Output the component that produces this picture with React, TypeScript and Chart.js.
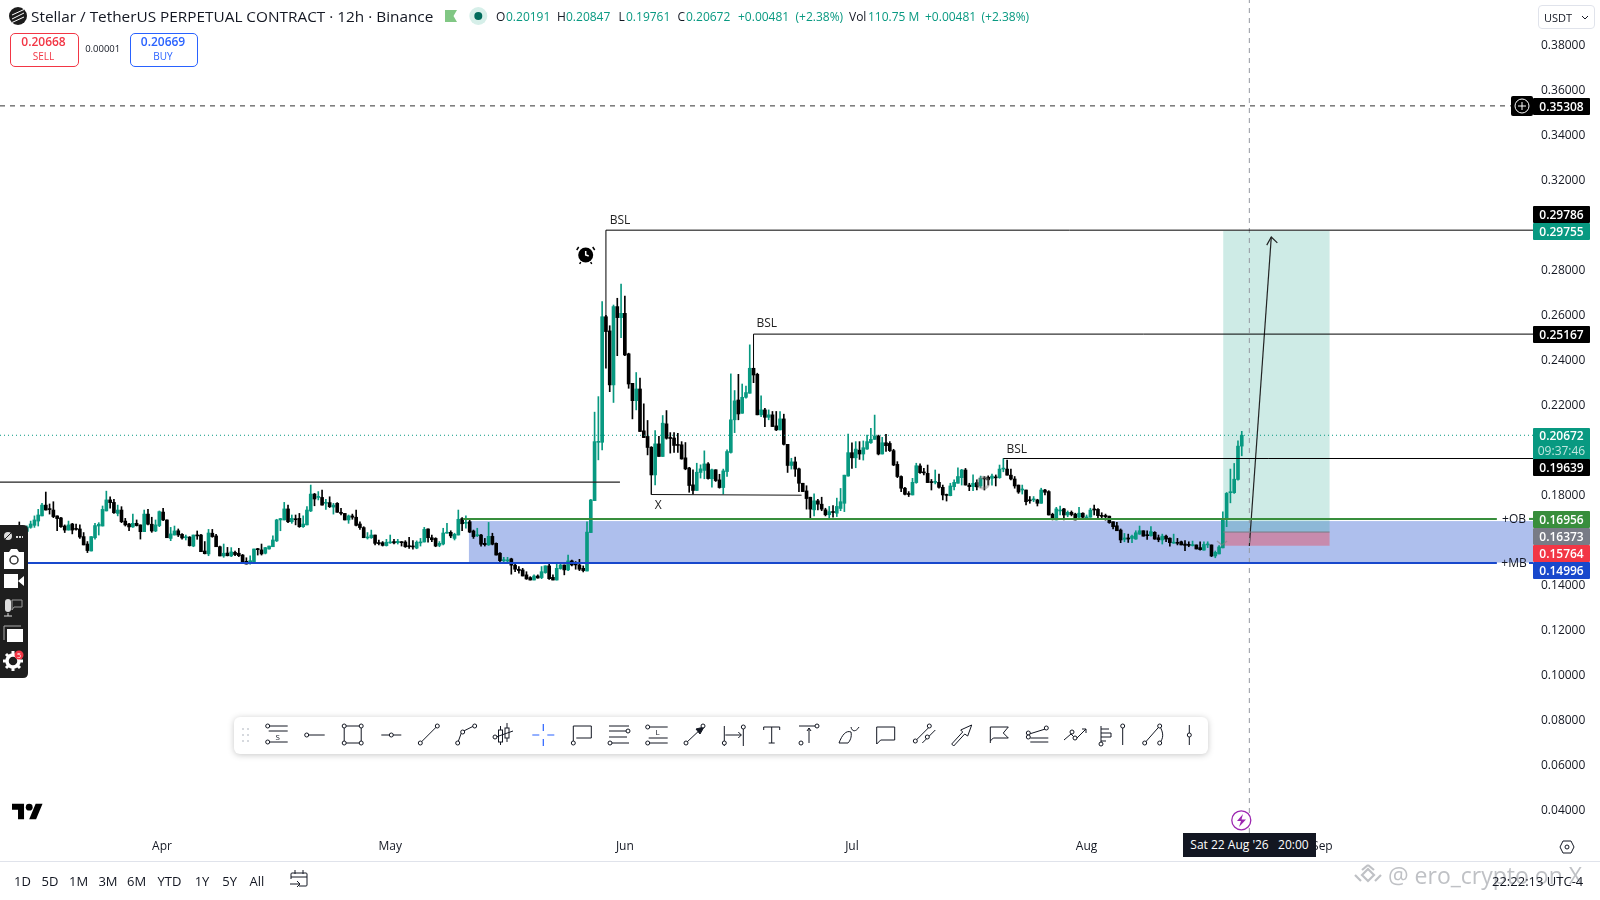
import React, { useEffect, useRef } from "react";
import { Chart, registerables } from "chart.js";

Chart.register(...registerables);

const opens = [
.1660,.1630,.1640,.1658,.1667,.1686,.1709,.1757,.1740,.1735,
.1709,.1700,.1664,.1646,.1673,.1652,.1651,.1617,.1584,.1553,
.1612,.1664,.1664,.1731,.1780,.1769,.1720,.1735,.1686,.1673,
.1660,.1676,.1669,.1639,.1717,.1672,.1642,.1666,.1726,.1691,
.1609,.1624,.1643,.1627,.1612,.1615,.1575,.1623,.1624,.1553,
.1540,.1632,.1620,.1572,.1531,.1544,.1531,.1547,.1543,.1535,
.1507,.1498,.1501,.1562,.1558,.1543,.1562,.1572,.1598,.1691,
.1691,.1740,.1683,.1695,.1698,.1661,.1669,.1731,.1806,.1791,
.1791,.1765,.1768,.1748,.1765,.1725,.1720,.1691,.1709,.1703,
.1673,.1657,.1611,.1612,.1624,.1590,.1590,.1577,.1589,.1595,
.1590,.1593,.1593,.1575,.1574,.1566,.1589,.1593,.1651,.1612,
.1609,.1578,.1584,.1632,.1636,.1609,.1624,.1697,.1676,.1683,
.1642,.1621,.1624,.1587,.1580,.1618,.1587,.1543,.1510,.1509,
.1518,.1490,.1472,.1469,.1447,.1435,.1424,.1442,.1435,.1457,
.1487,.1436,.1424,.1475,.1491,.1469,.1509,.1497,.1491,.1476,
.1464,.1635,.1777,.2036,.2036,.2594,.2531,.2291,.2639,.2590,
.2609,.2429,.2298,.2221,.2273,.2087,.2062,.2014,.1891,.2029,
.1973,.2118,.2055,.2055,.2025,.2025,.1967,.1922,.1847,.1822,
.1902,.1911,.1940,.1874,.1914,.1869,.1835,.1906,.1991,.2136,
.2224,.2165,.2236,.2254,.2365,.2338,.2158,.2180,.2147,.2158,
.2109,.2091,.2140,.2027,.1933,.1949,.1918,.1854,.1820,.1792,
.1736,.1776,.1761,.1736,.1714,.1727,.1721,.1742,.1765,.1886,
.1990,.1967,.2001,.1984,.2006,.2034,.2049,.2064,.1984,.2034,
.2031,.1999,.1938,.1884,.1832,.1807,.1802,.1857,.1931,.1903,
.1898,.1861,.1858,.1858,.1836,.1803,.1799,.1839,.1854,.1879,
.1913,.1846,.1839,.1857,.1842,.1876,.1881,.1876,.1881,.1879,
.1917,.1917,.1890,.1873,.1846,.1824,.1824,.1780,.1780,.1780,
.1765,.1824,.1817,.1716,.1691,.1731,.1740,.1713,.1725,.1717,
.1703,.1721,.1700,.1703,.1740,.1738,.1710,.1711,.1708,.1683,
.1665,.1646,.1605,.1611,.1609,.1606,.1628,.1643,.1624,.1621,
.1636,.1612,.1602,.1619,.1610,.1588,.1591,.1594,.1584,.1581,
.1577,.1580,.1568,.1557,.1580,.1580,.1531,.1540,.1567,.1698,
.1812,.1812,.1871,.20191];

const highs = [
.1682,.1660,.1665,.1686,.1709,.1738,.1765,.1815,.1762,.1772,
.1709,.1703,.1669,.1686,.1676,.1673,.1669,.1635,.1595,.1617,
.1676,.1679,.1753,.1819,.1794,.1783,.1757,.1750,.1698,.1676,
.1717,.1691,.1669,.1735,.1738,.1703,.1691,.1731,.1743,.1691,
.1658,.1664,.1651,.1630,.1624,.1617,.1624,.1642,.1627,.1595,
.1649,.1649,.1627,.1575,.1584,.1569,.1568,.1553,.1565,.1538,
.1523,.1532,.1562,.1565,.1584,.1569,.1575,.1620,.1694,.1698,
.1769,.1757,.1713,.1713,.1720,.1709,.1750,.1846,.1809,.1817,
.1824,.1783,.1794,.1765,.1768,.1743,.1720,.1713,.1717,.1735,
.1683,.1661,.1635,.1646,.1624,.1602,.1595,.1605,.1624,.1605,
.1605,.1595,.1599,.1614,.1599,.1598,.1609,.1658,.1651,.1624,
.1612,.1595,.1654,.1676,.1643,.1632,.1735,.1701,.1709,.1694,
.1646,.1654,.1627,.1609,.1680,.1632,.1589,.1546,.1525,.1525,
.1521,.1501,.1484,.1476,.1461,.1439,.1447,.1447,.1484,.1487,
.1501,.1447,.1495,.1495,.1491,.1535,.1513,.1506,.1516,.1487,
.1683,.1782,.2170,.2239,.2661,.2600,.2554,.2646,.2676,.2739,
.2686,.2432,.2298,.2346,.2321,.2207,.2133,.2017,.2088,.2062,
.2155,.2177,.2079,.2079,.2076,.2039,.2035,.1925,.1914,.1943,
.1936,.1998,.1946,.1917,.1914,.1894,.1917,.2002,.2340,.2266,
.2338,.2295,.2286,.2469,.2365,.2343,.2242,.2187,.2180,.2173,
.2173,.2173,.2161,.2027,.1965,.1970,.1921,.1854,.1843,.1792,
.1807,.1783,.1792,.1743,.1751,.1755,.1788,.1831,.1890,.2073,
.2034,.2039,.2039,.2042,.2068,.2098,.2157,.2068,.2058,.2071,
.2039,.2005,.1950,.1887,.1836,.1817,.1876,.1943,.1940,.1920,
.1935,.1871,.1913,.1895,.1846,.1806,.1854,.1869,.1923,.1916,
.1920,.1854,.1891,.1869,.1886,.1884,.1887,.1895,.1891,.1935,
.1963,.1957,.1917,.1884,.1846,.1846,.1824,.1795,.1795,.1783,
.1832,.1827,.1821,.1721,.1747,.1753,.1743,.1731,.1731,.1721,
.1747,.1723,.1713,.1743,.1757,.1741,.1723,.1717,.1708,.1683,
.1680,.1651,.1631,.1628,.1624,.1643,.1664,.1643,.1643,.1661,
.1639,.1624,.1628,.1624,.1612,.1628,.1609,.1597,.1599,.1594,
.1597,.1580,.1594,.1594,.1594,.1580,.1553,.1577,.1727,.1813,
.1917,.1942,.2043,.20847];

const lows = [
.1620,.1620,.1630,.1654,.1658,.1664,.1709,.1735,.1717,.1701,
.1643,.1658,.1635,.1646,.1629,.1646,.1609,.1580,.1546,.1553,
.1606,.1624,.1664,.1731,.1743,.1720,.1709,.1679,.1664,.1643,
.1658,.1664,.1606,.1639,.1669,.1636,.1639,.1661,.1688,.1612,
.1599,.1624,.1617,.1606,.1602,.1575,.1572,.1605,.1550,.1540,
.1532,.1614,.1572,.1531,.1525,.1531,.1528,.1532,.1528,.1501,
.1495,.1495,.1501,.1535,.1535,.1540,.1561,.1572,.1595,.1643,
.1691,.1679,.1676,.1669,.1658,.1658,.1669,.1728,.1754,.1780,
.1757,.1738,.1746,.1717,.1725,.1713,.1691,.1676,.1694,.1664,
.1649,.1612,.1606,.1609,.1580,.1580,.1575,.1575,.1587,.1584,
.1584,.1575,.1569,.1565,.1561,.1563,.1575,.1593,.1592,.1595,
.1572,.1572,.1580,.1632,.1612,.1602,.1624,.1643,.1654,.1635,
.1609,.1617,.1575,.1575,.1578,.1580,.1535,.1501,.1501,.1498,
.1450,.1461,.1454,.1442,.1427,.1424,.1424,.1432,.1430,.1454,
.1427,.1424,.1424,.1472,.1447,.1466,.1487,.1472,.1466,.1460,
.1464,.1635,.1777,.1958,.2002,.2365,.2261,.2213,.2421,.2501,
.2421,.2276,.2140,.2180,.2084,.2057,.1980,.1891,.1847,.1973,
.1973,.2050,.1988,.1991,.1991,.1961,.1914,.1814,.1806,.1822,
.1877,.1874,.1872,.1837,.1862,.1832,.1806,.1884,.1988,.2079,
.2136,.2165,.2232,.2254,.2301,.2158,.2150,.2106,.2136,.2106,
.2088,.2091,.2024,.1902,.1917,.1884,.1817,.1817,.1739,.1699,
.1709,.1736,.1732,.1709,.1699,.1703,.1706,.1732,.1728,.1886,
.1920,.1923,.1960,.1957,.2004,.2031,.2049,.1980,.1984,.1995,
.1995,.1932,.1879,.1817,.1802,.1795,.1802,.1854,.1898,.1891,
.1857,.1824,.1851,.1832,.1780,.1775,.1798,.1824,.1854,.1846,
.1846,.1821,.1821,.1824,.1835,.1824,.1846,.1846,.1842,.1876,
.1905,.1890,.1869,.1832,.1809,.1806,.1758,.1765,.1772,.1753,
.1765,.1802,.1713,.1691,.1691,.1713,.1691,.1705,.1709,.1691,
.1694,.1694,.1694,.1703,.1713,.1692,.1698,.1690,.1676,.1651,
.1643,.1590,.1594,.1591,.1590,.1605,.1627,.1619,.1605,.1619,
.1605,.1594,.1584,.1594,.1575,.1587,.1580,.1580,.1554,.1572,
.1575,.1562,.1557,.1557,.1568,.1528,.1523,.1540,.1567,.1661,
.1767,.1809,.1868,.19761];

const closes = [
.1640,.1650,.1660,.1673,.1691,.1713,.1757,.1735,.1737,.1706,
.1697,.1661,.1646,.1669,.1646,.1649,.1615,.1580,.1555,.1617,
.1666,.1672,.1738,.1780,.1768,.1723,.1735,.1683,.1669,.1660,
.1676,.1666,.1639,.1717,.1672,.1642,.1669,.1728,.1691,.1612,
.1629,.1642,.1624,.1611,.1615,.1577,.1624,.1620,.1550,.1541,
.1633,.1617,.1572,.1531,.1543,.1532,.1549,.1537,.1532,.1504,
.1495,.1510,.1562,.1559,.1540,.1568,.1575,.1602,.1691,.1697,
.1740,.1683,.1698,.1692,.1661,.1673,.1735,.1806,.1784,.1794,
.1757,.1768,.1750,.1757,.1725,.1720,.1691,.1709,.1703,.1667,
.1657,.1612,.1614,.1624,.1587,.1586,.1578,.1592,.1592,.1589,
.1596,.1590,.1572,.1572,.1571,.1592,.1592,.1649,.1612,.1603,
.1575,.1587,.1633,.1635,.1620,.1627,.1694,.1674,.1680,.1637,
.1617,.1624,.1583,.1581,.1618,.1583,.1535,.1510,.1513,.1512,
.1490,.1472,.1466,.1442,.1429,.1424,.1442,.1433,.1461,.1487,
.1430,.1424,.1476,.1491,.1469,.1509,.1491,.1491,.1472,.1466,
.1637,.1780,.2039,.2039,.2594,.2528,.2291,.2639,.2590,.2609,
.2424,.2295,.2221,.2273,.2084,.2057,.2013,.1891,.2029,.1973,
.2121,.2054,.2053,.2022,.2022,.1962,.1918,.1844,.1822,.1903,
.1918,.1940,.1875,.1914,.1866,.1835,.1909,.1995,.2136,.2220,
.2162,.2236,.2257,.2365,.2335,.2158,.2180,.2147,.2158,.2106,
.2091,.2140,.2027,.1933,.1949,.1917,.1854,.1817,.1786,.1739,
.1776,.1761,.1739,.1714,.1728,.1724,.1751,.1772,.1890,.1990,
.1967,.2006,.1984,.2012,.2039,.2049,.2064,.1984,.2034,.2021,
.1999,.1935,.1884,.1832,.1805,.1804,.1858,.1932,.1901,.1900,
.1857,.1857,.1861,.1836,.1802,.1800,.1842,.1858,.1884,.1913,
.1846,.1839,.1854,.1838,.1876,.1873,.1869,.1886,.1878,.1917,
.1920,.1890,.1873,.1842,.1815,.1827,.1772,.1776,.1783,.1765,
.1824,.1814,.1713,.1694,.1740,.1735,.1713,.1725,.1715,.1691,
.1721,.1703,.1703,.1735,.1735,.1710,.1707,.1705,.1679,.1661,
.1643,.1602,.1611,.1606,.1619,.1634,.1643,.1619,.1621,.1639,
.1606,.1603,.1619,.1606,.1590,.1591,.1587,.1580,.1578,.1578,
.1580,.1562,.1559,.1582,.1582,.1531,.1547,.1571,.1698,.1809,
.1815,.1872,.2019,.20672];

// Time axis, in candle numbers (12h candles)
const monthLabels = ["Apr", "May", "Jun", "Jul", "Aug", "Sep"];
const monthCandles = [37.7, 98, 160, 220, 282, 344.3];
const priceTicks = [0.38, 0.36, 0.34, 0.32, 0.28, 0.26, 0.24, 0.22, 0.18, 0.14, 0.12, 0.1, 0.08, 0.06, 0.04];

// Drawing levels
const alertPrice = 0.35308;
const bslHigh = 0.29786;
const bslMid = 0.25167;
const bslLow = 0.19639;
const lastPrice = 0.20672;
const obPrice = 0.16956;
const mbPrice = 0.14996;
const targetPrice = 0.29755;
const entryPrice = 0.16373;
const stopPrice = 0.15764;
const obZoneTop = 0.1686;
const rangePrice = 0.1859;
const xLevelStart = 0.1804;
const xLevelEnd = 0.1801;

const xMin = -5.1;
const xMax = 399.95;
const crosshairCandle = 325;
const positionStart = 318.1;
const positionEnd = 346.2;

const UP = "#089981";
const DOWN = "#000000";
const INK = "#131722";
const FONT = '"Open Sans", sans-serif';

const idx = opens.map((_, i) => i);
const colors = opens.map((o, i) => (closes[i] >= o ? UP : DOWN));

function seg(pts: number[][], color: string, width = 1, dash: number[] = []) {
  return {
    type: "line" as const,
    data: pts.map(([x, y]) => ({ x, y })),
    borderColor: color,
    borderWidth: width,
    borderDash: dash,
    pointRadius: 0,
    tension: 0,
    fill: false,
    order: 1,
  };
}

const boxesPlugin = {
  id: "boxes",
  beforeDatasetsDraw(chart: any) {
    const { ctx, scales } = chart;
    const box = (x0: number, x1: number, p0: number, p1: number, c: string) => {
      const l = scales.x.getPixelForValue(x0);
      const r = scales.x.getPixelForValue(x1);
      const t = scales.y.getPixelForValue(p0);
      const b = scales.y.getPixelForValue(p1);
      ctx.fillStyle = c;
      ctx.fillRect(l, t, r - l, b - t);
    };
    box(118.8, xMax, obZoneTop, mbPrice + 0.0002, "rgba(24,72,204,0.35)");
    box(positionStart, positionEnd, targetPrice, entryPrice, "rgba(8,153,129,0.2)");
    box(positionStart, positionEnd, entryPrice, stopPrice, "rgba(242,54,69,0.38)");
  },
};

function Tag({ y, bg, text }: { y: number; bg: string; text: string }) {
  return (
    <div style={{ position: "absolute", left: 1533, top: y - 8.5, width: 57, height: 17, background: bg, color: "#fff", font: `600 12px ${FONT}`, lineHeight: "17px", textAlign: "center", borderRadius: 1 }}>
      {text}
    </div>
  );
}

function T({ x, y, c = INK, s = 12, w = 400, children, anchor = "left" }: any) {
  const tr = anchor === "center" ? "translate(-50%,-50%)" : "translateY(-50%)";
  return (
    <div style={{ position: "absolute", left: x, top: y, transform: tr, color: c, font: `${w} ${s}px ${FONT}`, whiteSpace: "pre", lineHeight: 1 }}>
      {children}
    </div>
  );
}

const Dot = ({ x, y }: { x: number; y: number }) => (
  <circle cx={x} cy={y} r={2} fill="#fff" stroke={INK} strokeWidth={1} />
);

const TimeBtn = ["1D", "5D", "1M", "3M", "6M", "YTD", "1Y", "5Y", "All"];
const TimeBtnX = [22.4, 50, 78.6, 108, 136.7, 169.4, 202, 229.6, 257];

function DrawingBar() {
  const I = ({ x, children }: any) => <g transform={`translate(${x},735)`}>{children}</g>;
  return (
    <g fill="none" stroke={INK} strokeWidth={1}>
      {[-6, 0, 6].map((dy) => [-3, 2].map((dx) => <circle key={`${dy}${dx}`} cx={246 + dx} cy={735 + dy} r={1} fill="#c9ccd3" stroke="none" />))}
      <I x={277.7}>
        <path d="M-9-9H10M-9-4H10M-9 7H10" /><Dot x={-10} y={-9} /><Dot x={-10} y={7} />
        <text x={0} y={5} fontSize={8} fill={INK} stroke="none" textAnchor="middle" fontFamily={FONT}>S</text>
      </I>
      <I x={315.7}><path d="M-8 0H9" /><Dot x={-9} y={0} /></I>
      <I x={352.7}><rect x={-8.5} y={-9} width={17} height={17} /><Dot x={-8.5} y={-9} /><Dot x={8.5} y={-9} /><Dot x={-8.5} y={8} /><Dot x={8.5} y={8} /></I>
      <I x={391.3}><path d="M-10 0H10" /><Dot x={0} y={0} /></I>
      <I x={429.3}><path d="M-9 8L8-9" /><Dot x={-9} y={8} /><Dot x={8} y={-9} /></I>
      <I x={466.7}><path d="M-9 8L-5-3L7-9" /><Dot x={-9} y={8} /><Dot x={-4} y={-3} /><Dot x={8} y={-9} /></I>
      <I x={505}>
        <rect x={-6.5} y={-5} width={4} height={12} /><rect x={0} y={-7} width={4} height={10} />
        <path d="M-4.5-9V-5M-4.5 7V10M2-12V-7M2 3V7M-9 2L8-4" /><Dot x={-10} y={2} />
      </I>
      <I x={543.3}><path d="M0-11V-4M0 4V11M-11 0H-4M4 0H11" stroke="#2962ff" strokeWidth={1.2} /></I>
      <I x={582.3}><path d="M-9 8V-9H9V3H-6" /><Dot x={-9} y={8} /></I>
      <I x={619}><path d="M-10-9H10M-10-4H8M-10 2H8M-10 8H10" /><Dot x={9} y={-4} /><Dot x={-9} y={8} /></I>
      <I x={657.7}>
        <path d="M-9-8H10M-9 3H10M-9 8H10" /><Dot x={-10} y={-8} /><Dot x={-10} y={8} />
        <text x={0} y={0} fontSize={8} fill={INK} stroke="none" textAnchor="middle" fontFamily={FONT}>L</text>
      </I>
      <I x={695}><path d="M-9 8L8-8" /><path d="M9-8L1-6L5-1Z" fill={INK} /><Dot x={-9} y={8} /><Dot x={8} y={-9} /></I>
      <I x={733.3}><path d="M-9-9V11M10-7V11M-8 0H8M5-3L8 0L5 3" /><Dot x={-9} y={8} /><Dot x={10} y={-8} /></I>
      <I x={771.7}><path d="M-8-5V-8H8V-5M0-8V8M-3 8H3" /></I>
      <I x={809}><path d="M-10-9H8M0-7V8M-2-4L0-7L2-4" /><Dot x={8} y={-9} /><Dot x={-8} y={8} /></I>
      <I x={848}><path d="M-9 8C-6 0-2-5 3-3C4 2 2 6 0 8ZM3-8C4-3 8-3 11-8" /></I>
      <I x={885.7}><path d="M-9-8H9V5H-5L-9 9Z" /></I>
      <I x={924.3}><path d="M-9 6L5-8M-2 8L11-5" /><Dot x={-9} y={6} /><Dot x={5} y={-9} /><Dot x={3} y={2} /></I>
      <I x={961.7}><path d="M-10 9L1-3L-1-5L10-10L6 1L3-1L-8 11Z" /></I>
      <I x={999.3}><path d="M-9 8V-8H9L4-2L9 3H-6L-9 6" /></I>
      <I x={1037.3}><path d="M-8-1L8-6M-7 3H11M-7 7H11" /><Dot x={-9} y={-2} /><Dot x={9} y={-7} /><Dot x={-9} y={2} /></I>
      <I x={1075}><path d="M-11 5L-4-1L1 4L11-6M7-6H11V-2" /><Dot x={-3} y={-3} /><Dot x={0} y={3} /></I>
      <I x={1107}><path d="M-6-9V9M-6-6H2M-6-2H4V2H-6M-6 6H-1" /><Dot x={-6} y={9} /></I>
      <I x={1122.7}><path d="M0-8V10" /><Dot x={0} y={-9} /></I>
      <I x={1152.7}><path d="M-8 8L7-9M7-9C11-2 11 3 7 8" /><Dot x={-8} y={8} /><Dot x={7} y={-9} /><Dot x={7} y={8} /></I>
      <I x={1189.3}><path d="M0-10V10" /><Dot x={0} y={0} /></I>
    </g>
  );
}

function Overlay() {
  return (
    <>
      {/* legend */}
      <T x={31} y={16.5} s={15.35}>Stellar / TetherUS PERPETUAL CONTRACT · 12h · Binance</T>
      <T x={496} y={16.5}>O</T><T x={506} y={16.5} c={UP}>0.20191</T>
      <T x={557} y={16.5}>H</T><T x={566} y={16.5} c={UP}>0.20847</T>
      <T x={618.5} y={16.5}>L</T><T x={626} y={16.5} c={UP}>0.19761</T>
      <T x={677.5} y={16.5}>C</T><T x={686} y={16.5} c={UP}>0.20672</T>
      <T x={738} y={16.5} c={UP}>+0.00481</T><T x={795.5} y={16.5} c={UP}>(+2.38%)</T>
      <T x={849} y={16.5}>Vol</T><T x={868} y={16.5} c={UP}>110.75 M</T>
      <T x={925} y={16.5} c={UP}>+0.00481</T><T x={981.5} y={16.5} c={UP}>(+2.38%)</T>
      <div style={{ position: "absolute", left: 9.5, top: 32.5, width: 67, height: 32, border: "1px solid #f23645", borderRadius: 5, background: "#fff" }} />
      <T x={43.5} y={41.5} anchor="center" c="#f23645" s={12} w={600}>0.20668</T>
      <T x={43.5} y={56} anchor="center" c="#f23645" s={10}>SELL</T>
      <T x={102.7} y={48.7} anchor="center" s={9.5}>0.00001</T>
      <div style={{ position: "absolute", left: 129.5, top: 32.5, width: 66, height: 32, border: "1px solid #2962ff", borderRadius: 5, background: "#fff" }} />
      <T x={163} y={41.5} anchor="center" c="#2962ff" s={12} w={600}>0.20669</T>
      <T x={163} y={56} anchor="center" c="#2962ff" s={10}>BUY</T>

      {/* drawing labels */}
      <T x={620} y={219.5} anchor="center" s={12} c="#222">BSL</T>
      <T x={766.7} y={323.3} anchor="center" s={12} c="#222">BSL</T>
      <T x={1016.7} y={448.7} anchor="center" s={12} c="#222">BSL</T>
      <T x={658.3} y={504.5} anchor="center" s={12} c="#222">X</T>
      <T x={1514} y={519} anchor="center" s={12}>+OB</T>
      <T x={1514} y={562.5} anchor="center" s={12}>+MB</T>

      {/* price tags */}
      <Tag y={106} bg="#000" text="0.35308" />
      <Tag y={214.5} bg="#000" text="0.29786" />
      <Tag y={231.5} bg={UP} text="0.29755" />
      <Tag y={334.7} bg="#000" text="0.25167" />
      <div style={{ position: "absolute", left: 1533, top: 428, width: 57, height: 31.5, background: UP, color: "#fff", font: `600 12px ${FONT}`, textAlign: "center", lineHeight: "16px", borderRadius: 1 }}>
        0.20672<div style={{ color: "#bfe6df", fontWeight: 400, lineHeight: "14px" }}>09:37:46</div>
      </div>
      <Tag y={467.5} bg="#000" text="0.19639" />
      <Tag y={519.5} bg="#388e3c" text="0.16956" />
      <Tag y={536.5} bg="#787b86" text="0.16373" />
      <Tag y={553.5} bg="#f23645" text="0.15764" />
      <Tag y={570.5} bg="#1848cc" text="0.14996" />

      <div style={{ position: "absolute", left: 1538, top: 5, width: 57, height: 24, border: "1px solid #e0e3eb", borderRadius: 4, boxSizing: "border-box" }} />
      <T x={1544} y={17} s={11}>USDT</T>

      {/* crosshair date + footer */}
      <div style={{ position: "absolute", left: 1183, top: 833, width: 133, height: 24, background: "#131722", color: "#fff", font: `400 12px ${FONT}`, lineHeight: "24px", textAlign: "center", whiteSpace: "pre", zIndex: 2 }}>
        Sat 22 Aug '26   20:00
      </div>
      <div style={{ position: "absolute", left: 0, top: 861, width: 1600, height: 1, background: "#e0e3eb" }} />
      {TimeBtn.map((b, i) => (
        <T key={b} x={TimeBtnX[i]} y={881} anchor="center" s={13}>{b}</T>
      ))}
      <T x={1388} y={875} s={23} c="rgba(170,172,178,0.75)">@ ero_crypto on X</T>
      <T x={1492} y={881} s={13}>22:22:13 UTC-4</T>

      <svg width={1600} height={900} style={{ position: "absolute", left: 0, top: 0, pointerEvents: "none" }}>
        {/* symbol logo */}
        <circle cx={18} cy={16} r={9} fill="#1c1c1c" />
        <path d="M12 19L24 13M12 15L24 9.5M12 22.5L24 17" stroke="#fff" strokeWidth={1} fill="none" />
        <path d="M445 10H457L453.5 16L457 22H445Z" fill="#81c784" />
        <circle cx={478.3} cy={16} r={9} fill="#d6efe9" /><circle cx={478.3} cy={16} r={4} fill="#006b5b" />

        {/* alert clock */}
        <g transform="translate(585.7,255)">
          <circle r={7.5} fill="#000" /><path d="M-7-8L-9-5M7-8L9-5M-5 7L-6 9M5 7L6 9" stroke="#000" strokeWidth={1.5} />
          <path d="M0-4V0L3 1" stroke="#fff" strokeWidth={1.5} fill="none" />
        </g>
        {/* cursor ring */}
        <circle cx={983.3} cy={482.7} r={5.5} fill="none" stroke="rgba(120,120,120,0.45)" strokeWidth={3} />
        <path d="M1217 541L1222 545L1227 541" fill="none" stroke="rgba(130,130,130,0.6)" strokeWidth={1.5} />

        {/* add-alert button */}
        <rect x={1511} y={96} width={22} height={20} rx={2} fill="#000" />
        <circle cx={1522} cy={106} r={7} fill="none" stroke="#fff" /><path d="M1522 102V110M1518 106H1526" stroke="#fff" />

        {/* USDT chevron */}
        <path d="M1582 16L1585 19L1588 16" fill="none" stroke={INK} />

        {/* left recording bar */}
        <path d="M0 525H23Q28 525 28 530V673Q28 678 23 678H0Z" fill="#1e1e1e" />
        <circle cx={8} cy={536} r={4} fill="#ddd" /><path d="M4 540L12 532" stroke="#1e1e1e" />
        <path d="M16 537H23" stroke="#ddd" strokeWidth={2} strokeDasharray="2 1" />
        <path d="M4 552H9L11 549H17L19 552H24V569H4Z" fill="#fff" /><circle cx={14} cy={560} r={4} fill="#fff" stroke="#333" strokeWidth={1.5} />
        <path d="M4 574H18V588H4ZM18 581L24 576V586Z" fill="#fff" />
        <rect x={5} y={599} width={6} height={13} rx={3} fill="#ddd" /><path d="M8 613V616M4 616H12" stroke="#ddd" />
        <path d="M12 600H22V607H14L12 610Z" fill="none" stroke="#999" />
        <path d="M4 626H21" stroke="#aaa" fill="none" /><path d="M4 626V640" stroke="#aaa" /><rect x={7} y={629} width={16} height={13} fill="#fff" />
        <g transform="translate(13,661)">
          <circle r={6} fill="none" stroke="#fff" strokeWidth={3.5} />
          <path d="M0-10V-6M0 6V10M-10 0H-6M6 0H10M-7-7L-4-4M7 7L4 4M-7 7L-4 4M7-7L4-4" stroke="#fff" strokeWidth={3} />
        </g>
        <circle cx={19} cy={655} r={4.5} fill="#f23645" />
        <text x={19} y={657.5} fontSize={7} fill="#fff" textAnchor="middle" fontFamily={FONT}>5</text>

        {/* drawing toolbar */}
        <rect x={234} y={717} width={974} height={37} rx={6} fill="#fff" style={{ filter: "drop-shadow(0 1px 3px rgba(0,0,0,0.22))" }} />
        <DrawingBar />

        {/* TradingView mark */}
        <g transform="translate(12,802) scale(0.86)" fill="#000">
          <path d="M14 20H7V9H0V2h14v18zM28 20h-8l7.5-18h8L28 20z" /><circle cx={20} cy={6} r={4} />
        </g>

        {/* lightning */}
        <circle cx={1241.3} cy={820.3} r={9.5} fill="#fff" stroke="#9c27b0" strokeWidth={1.3} />
        <path d="M1243 814L1237 821H1241L1239 827L1246 819.5H1241.5Z" fill="#9c27b0" />

        {/* time axis gear */}
        <circle cx={1567} cy={847} r={2} fill="none" stroke={INK} />
        <path d="M1563 841H1571L1574 847L1571 853H1563L1560 847Z" fill="none" stroke={INK} />

        {/* range icon */}
        <rect x={291} y={873} width={16} height={13} rx={1} fill="none" stroke={INK} />
        <path d="M291 877H307M295 870V874M303 870V874" stroke={INK} fill="none" />
        <rect x={289} y={879} width={10} height={9} fill="#fff" />
        <path d="M290 884H300M297 881L300 884L297 887" stroke={INK} fill="none" />

        {/* watermark diamonds */}
        <g fill="none" stroke="rgba(170,172,178,0.75)" strokeWidth={2.2}>
          <path d="M1362 875L1368 869L1374 875L1368 881ZM1355 875L1361 881M1381 875L1375 881M1368 865L1362 870M1368 865L1374 870" />
        </g>
      </svg>
    </>
  );
}

export default function App() {
  const ref = useRef<HTMLCanvasElement>(null);
  useEffect(() => {
    document.body.style.margin = "0";
    const lineSets = [
      seg([[xMin, rangePrice], [158.7, rangePrice]], "#222", 1.3),
      seg([[xMin, alertPrice], [xMax, alertPrice]], "#333", 1, [5, 5]),
      seg([[155, 0.2594], [155, bslHigh], [xMax, bslHigh]], "#000", 1),
      seg([[194, 0.2365], [194, bslMid], [xMax, bslMid]], "#000", 1),
      seg([[260, 0.1963], [260, bslLow], [xMax, bslLow]], "#000", 1),
      seg([[167, 0.1891], [167, xLevelStart], [206.7, xLevelEnd]], "#111", 1),
      seg([[xMin, lastPrice], [xMax, lastPrice]], UP, 1, [1, 3]),
      seg([[117.2, obPrice], [390.4, obPrice]], "#388e3c", 2),
      seg([[398.9, obPrice], [xMax, obPrice]], "#388e3c", 2),
      seg([[xMin, mbPrice], [390.4, mbPrice]], "#1848cc", 2),
      seg([[398.9, mbPrice], [xMax, mbPrice]], "#1848cc", 2),
      seg([[positionStart, entryPrice], [positionEnd, entryPrice]], "#787b86", 1),
      seg([[crosshairCandle, 0.03], [crosshairCandle, 0.40013]], "#9598a1", 1, [5, 5]),
      seg([[325, 0.1575], [330.8, 0.2948]], "#222", 1.2),
      seg([[329.6, 0.2912], [330.8, 0.2948], [332.4, 0.2922]], "#222", 1.2),
    ];
    const chart = new Chart(ref.current as HTMLCanvasElement, {
      type: "bar",
      data: {
        datasets: [
          {
            data: idx.map((i) => ({ x: i, y: [lows[i], highs[i]] })),
            backgroundColor: colors,
            barThickness: 1,
            grouped: false,
            order: 3,
            borderSkipped: false,
          },
          {
            data: idx.map((i) => ({ x: i, y: [opens[i], closes[i]] })),
            backgroundColor: colors,
            barThickness: 3,
            minBarLength: 1,
            grouped: false,
            order: 2,
            borderSkipped: false,
          },
          ...lineSets,
        ] as any,
      },
      plugins: [boxesPlugin],
      options: {
        animation: false,
        responsive: false,
        devicePixelRatio: 1,
        layout: { padding: 0 },
        plugins: { legend: { display: false }, tooltip: { enabled: false } },
        events: [],
        scales: {
          x: {
            type: "linear",
            offset: false,
            min: xMin,
            max: xMax,
            grid: { display: false, drawTicks: false },
            border: { display: false },
            afterBuildTicks: (s: any) => { s.ticks = monthCandles.map((value) => ({ value })); },
            afterFit: (s: any) => { s.height = 67; s.paddingLeft = 0; s.paddingRight = 0; },
            ticks: {
              autoSkip: false,
              maxRotation: 0,
              padding: 6,
              color: INK,
              font: { family: '"Open Sans"', size: 12 },
              callback: (v: any) => monthLabels[monthCandles.indexOf(Number(v))] ?? "",
            },
          },
          y: {
            type: "linear",
            position: "right",
            min: 0.03,
            max: 0.40013,
            grid: { display: false, drawTicks: false },
            border: { display: false },
            afterBuildTicks: (s: any) => { s.ticks = priceTicks.map((value) => ({ value })); },
            afterFit: (s: any) => { s.width = 67; s.paddingTop = 0; s.paddingBottom = 0; },
            ticks: {
              autoSkip: false,
              padding: 8,
              color: INK,
              font: { family: '"Open Sans"', size: 12 },
              callback: (v: any) => Number(v).toFixed(5),
            },
          },
        },
      } as any,
    });
    return () => chart.destroy();
  }, []);
  return (
    <div style={{ position: "fixed", left: 0, top: 0, width: 1600, height: 900, overflow: "hidden", background: "#fff" }}>
      <canvas ref={ref} width={1600} height={900} style={{ position: "absolute", left: 0, top: 0, width: 1600, height: 900 }} />
      <Overlay />
    </div>
  );
}
